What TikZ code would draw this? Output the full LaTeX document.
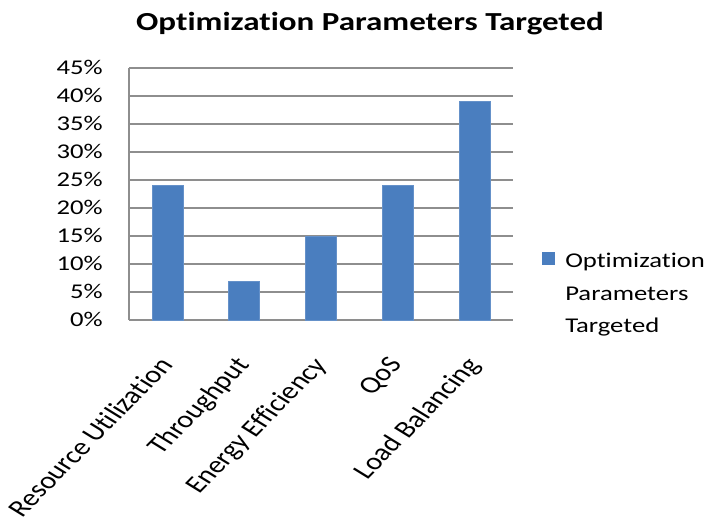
\documentclass[tikz,border=0pt]{standalone}
\usepackage{fontspec}
\setmainfont[Ligatures=NoCommon]{Carlito}
\definecolor{barblue}{HTML}{4A7EBF}
\definecolor{gridgray}{HTML}{8E8E8E}
\begin{document}
\begin{tikzpicture}[x=1pt,y=-1pt,
  gridline/.style={draw=gridgray, line width=1.3pt},
  barbox/.style={fill=barblue, draw=barblue!85!white, line width=0.6pt},
  ylab/.style={anchor=base east, font=\fontsize{21}{25}\selectfont, xscale=1.27, inner sep=0pt},
  xlab/.style={anchor=north east, font=\fontsize{24}{28}\selectfont, xscale=1.27, rotate=52, inner sep=0pt},
  legtext/.style={anchor=base west, font=\fontsize{21}{25}\selectfont, xscale=1.27, inner sep=0pt},
  titletext/.style={anchor=base, font=\bfseries\fontsize{26}{30}\selectfont, xscale=1.27, inner sep=0pt}
]
\useasboundingbox (0,0) rectangle (713,523);
% title
\node[titletext] (title) at (370,30) {Optimization Parameters Targeted};
% gridlines and y labels
\foreach \v in {0,5,...,45}{
  \pgfmathsetmacro{\yy}{320-5.6*\v}
  \draw[gridline] (129,\yy) -- (513,\yy);
  \node[ylab] (y\v) at (103,\yy+6.8) {\v\%};
}
% axis line
\draw[gridline] (129,68) -- (129,320);
% bars
\foreach \i/\val/\name in {1/24/Resource Utilization,2/7/Throughput,3/15/Energy Efficiency,4/24/QoS,5/39/Load Balancing}{
  \pgfmathsetmacro{\cx}{129+76.8*(\i-0.5)}
  \pgfmathsetmacro{\top}{320-5.6*\val}
  \fill[barbox] (\cx-15.5,320) rectangle (\cx+15.5,\top);
  \node[xlab] (x\i) at (\cx-10,355) {\name};
}
% legend
\fill[barblue] (542,252) rectangle (555,265);
\node[legtext] (leg1) at (565,267) {Optimization};
\node[legtext] (leg2) at (565,300) {Parameters};
\node[legtext] (leg3) at (565,332) {Targeted};
\end{tikzpicture}
\end{document}
